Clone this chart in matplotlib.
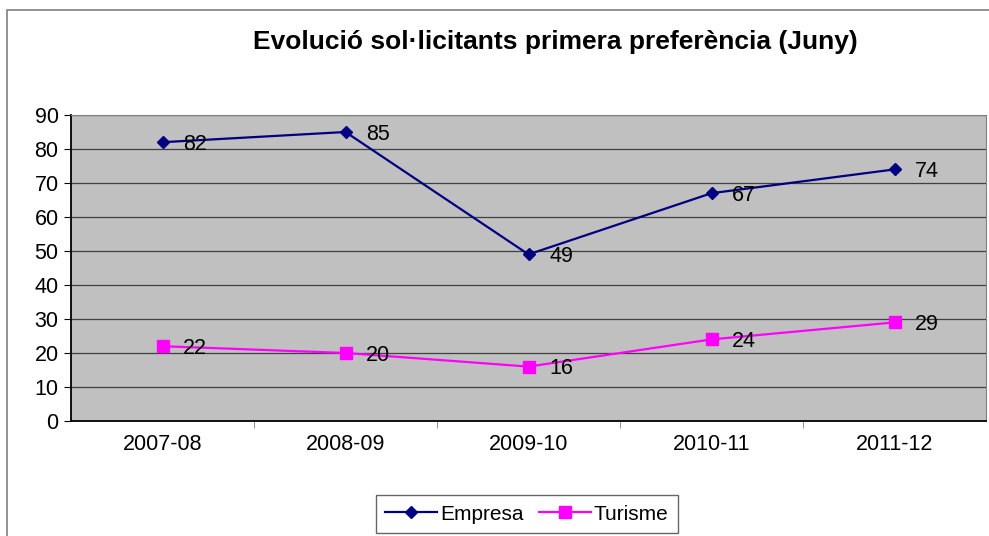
import matplotlib
matplotlib.use('Agg')
import matplotlib.pyplot as plt
from matplotlib.patches import Rectangle

# Data
seasons = ['2007-08', '2008-09', '2009-10', '2010-11', '2011-12']
empresa = [82, 85, 49, 67, 74]
turisme = [22, 20, 16, 24, 29]

plt.rcParams['font.family'] = ['Liberation Sans', 'DejaVu Sans']

fig = plt.figure(figsize=(9.89, 5.36), dpi=100)
ax = fig.add_axes([71 / 989, 1 - 421 / 536, 915 / 989, 306 / 536])
ax.set_facecolor('#C0C0C0')

# outer chart border (only top and left visible in the reference)
fig.add_artist(Rectangle((7 / 989, -0.05), 1.1, 1 - 10 / 536 + 0.05, transform=fig.transFigure,
                         fill=False, edgecolor='#808080', linewidth=1.2))

x = list(range(len(seasons)))
ax.plot(x, empresa, color='#000080', marker='D', markersize=6.5, linewidth=1.6, label='Empresa')
ax.plot(x, turisme, color='#FF00FF', marker='s', markersize=9, linewidth=1.6, label='Turisme')

for xi, v in zip(x, empresa):
    ax.annotate(str(v), (xi, v), xytext=(15, -1.5), textcoords='offset points',
                ha='left', va='center', fontsize=15.5)
for xi, v in zip(x, turisme):
    ax.annotate(str(v), (xi, v), xytext=(15, -1.5), textcoords='offset points',
                ha='left', va='center', fontsize=15.5)

ax.set_xlim(-0.5, len(seasons) - 0.5)
ax.set_ylim(0, 90)
ax.set_yticks(range(0, 91, 10))
ax.yaxis.grid(True, color='#404040', linewidth=0.9)
ax.set_axisbelow(True)

ax.set_xticks(x)
ax.set_xticklabels(seasons)
ax.set_xticks([i + 0.5 for i in range(len(seasons) - 1)], minor=True)
ax.tick_params(axis='x', which='major', length=0, pad=9, labelsize=15.5)
ax.tick_params(axis='x', which='minor', length=5, color='#808080')
ax.tick_params(axis='y', length=5, labelsize=15.5, pad=4)

for side in ['top', 'right']:
    ax.spines[side].set_color('#808080')
for side in ['left', 'bottom']:
    ax.spines[side].set_color('black')
    ax.spines[side].set_linewidth(1.3)

fig.text(555 / 989, 1 - 42 / 536, 'Evolució sol·licitants primera preferència (Juny)',
         ha='center', va='center', fontsize=19, fontweight='bold')

leg = fig.legend(loc='center', bbox_to_anchor=(527 / 989, 1 - 514 / 536), ncol=2,
                 frameon=True, fancybox=False, edgecolor='#404040', fontsize=15,
                 handlelength=2.5, columnspacing=0.7, handletextpad=0.15, borderpad=0.45,
                 borderaxespad=0)
leg.get_frame().set_linewidth(1.0)

fig.savefig('out.png', dpi=100)
